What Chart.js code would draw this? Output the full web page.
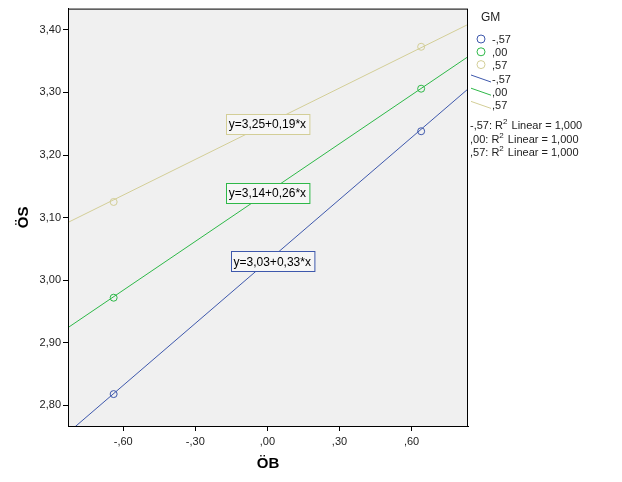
<!DOCTYPE html>
<html>
<head>
<meta charset="utf-8">
<script src="https://cdn.jsdelivr.net/npm/chart.js@4/dist/chart.umd.min.js"></script>
<style>
  html, body { margin: 0; padding: 0; background: #fff; }
  #wrap { width: 622px; height: 482px; }
</style>
</head>
<body>
<div id="wrap"><canvas id="chart" width="622" height="482"></canvas></div>
<script>
// Group means of ÖS at low/high ÖB, for each GM level
const groups = ['-,57', ',00', ',57'];
const colors = ['#3e58ac', '#2eb848', '#d3ce97'];
const pointX = [-0.64, 0.64];
const meansLow = [2.818, 2.972, 3.125];
const meansHigh = [3.238, 3.306, 3.373];

// Fit lines (R2 = 1,000)
const intercepts = [3.03, 3.14, 3.25];
const slopes = [0.33, 0.26, 0.19];
const fitLabels = ['y=3,03+0,33*x', 'y=3,14+0,26*x', 'y=3,25+0,19*x'];
const labelX = [0.02, 0, 0];

const xMin = -0.83, xMax = 0.835;
const yMin = 2.767, yMax = 3.434;

function spssNum(v) {
    // 3.4 -> "3,40", -0.6 -> "-,60", 0 -> ",00"
    let s = Math.abs(v).toFixed(2).replace('.', ',');
    if (s.startsWith('0,')) s = s.slice(1);
    return (v < -1e-9 ? '-' : '') + s;
}

const datasets = [];
groups.forEach((g, i) => {
    datasets.push({
        type: 'scatter',
        label: g,
        data: pointX.map((x, k) => ({ x: x, y: k === 0 ? meansLow[i] : meansHigh[i] })),
        borderColor: colors[i],
        backgroundColor: 'rgba(0,0,0,0)',
        pointRadius: 3.5,
        pointBorderWidth: 1,
        showLine: false
    });
});
groups.forEach((g, i) => {
    // regression line extended past the axis range, clipped to the plot
    const ends = [-1, 1];
    datasets.push({
        type: 'line',
        label: g,
        data: ends.map(x => ({ x: x, y: intercepts[i] + slopes[i] * x })),
        borderColor: colors[i],
        borderWidth: 1,
        pointRadius: 0,
        fill: false
    });
});

const spssPlugin = {
    id: 'spss',
    beforeDraw(chart) {
        const { ctx, chartArea: a } = chart;
        ctx.save();
        ctx.fillStyle = '#f0f0f0';
        ctx.fillRect(a.left, a.top, a.right - a.left, a.bottom - a.top);
        ctx.restore();
    },
    afterDraw(chart) {
        const { ctx, chartArea: a, scales } = chart;
        ctx.save();
        // frame
        ctx.strokeStyle = '#000';
        ctx.lineWidth = 1;
        ctx.strokeRect(a.left + 0.5, a.top + 0.5, a.right - a.left - 1, a.bottom - a.top);

        // equation boxes
        ctx.font = '12px "Liberation Sans", Arial, sans-serif';
        ctx.textBaseline = 'middle';
        ctx.textAlign = 'center';
        fitLabels.forEach((t, i) => {
            const cx = scales.x.getPixelForValue(labelX[i]);
            const cy = scales.y.getPixelForValue(intercepts[i]);
            const w = ctx.measureText(t).width + 6;
            const h = 20;
            const bx = Math.round(cx - w / 2) + 0.5, by = Math.round(cy - h / 2) + 0.5;
            ctx.fillStyle = '#f6f6f6';
            ctx.fillRect(bx, by, w, h);
            ctx.strokeStyle = colors[i];
            ctx.strokeRect(bx, by, w, h);
            ctx.fillStyle = '#000';
            ctx.fillText(t, cx, cy + 1);
        });

        // legend
        ctx.textAlign = 'left';
        ctx.fillStyle = '#222';
        ctx.font = '12px "Liberation Sans", Arial, sans-serif';
        ctx.fillText('GM', 481, 18);
        ctx.font = '11px "Liberation Sans", Arial, sans-serif';
        groups.forEach((g, i) => {
            const y = 39 + 12.8 * i;
            ctx.beginPath();
            ctx.arc(481, y, 4, 0, Math.PI * 2);
            ctx.strokeStyle = colors[i];
            ctx.lineWidth = 1;
            ctx.stroke();
            ctx.fillStyle = '#222';
            ctx.fillText(g, 492, y + 1);
        });
        groups.forEach((g, i) => {
            const y = 79 + 13.2 * i;
            ctx.beginPath();
            ctx.moveTo(471, y - 4);
            ctx.lineTo(491, y + 3);
            ctx.strokeStyle = colors[i];
            ctx.stroke();
            ctx.fillStyle = '#222';
            ctx.fillText(g, 492, y + 1);
        });
        // R2 lines
        groups.forEach((g, i) => {
            const y = 126 + 13.5 * i;
            let x = 470;
            ctx.fillStyle = '#222';
            ctx.font = '11px "Liberation Sans", Arial, sans-serif';
            const pre = g + ': R';
            ctx.fillText(pre, x, y);
            x += ctx.measureText(pre).width;
            ctx.font = '8px "Liberation Sans", Arial, sans-serif';
            ctx.fillText('2', x, y - 4);
            x += ctx.measureText('2').width + 1;
            ctx.font = '11px "Liberation Sans", Arial, sans-serif';
            ctx.fillText(' Linear = 1,000', x, y);
        });
        ctx.restore();
    }
};

new Chart(document.getElementById('chart'), {
    data: { datasets: datasets },
    options: {
        responsive: false,
        animation: false,
        layout: { padding: { top: 4, right: 154, left: 0, bottom: 0 } },
        plugins: {
            legend: { display: false },
            tooltip: { enabled: false }
        },
        scales: {
            x: {
                type: 'linear',
                min: xMin,
                max: xMax,
                afterFit(scale) { scale.height = 56; },
                grid: { drawOnChartArea: false, drawTicks: true, tickLength: 5, color: '#000' },
                border: { display: true, color: '#000' },
                ticks: {
                    stepSize: 0.3,
                    includeBounds: false,
                    padding: 4,
                    color: '#222',
                    font: { family: '"Liberation Sans", Arial, sans-serif', size: 11 },
                    callback: v => spssNum(v)
                },
                title: {
                    display: true,
                    text: 'ÖB',
                    color: '#000',
                    padding: { top: 0, bottom: 9 },
                    font: { family: '"Liberation Sans", Arial, sans-serif', size: 15, weight: 'bold' }
                }
            },
            y: {
                type: 'linear',
                min: yMin,
                max: yMax,
                afterFit(scale) { scale.width = 68; },
                grid: { drawOnChartArea: false, drawTicks: true, tickLength: 5, color: '#000' },
                border: { display: true, color: '#000' },
                ticks: {
                    stepSize: 0.1,
                    includeBounds: false,
                    padding: 2,
                    color: '#222',
                    font: { family: '"Liberation Sans", Arial, sans-serif', size: 11 },
                    callback: v => spssNum(v)
                },
                title: {
                    display: true,
                    text: 'ÖS',
                    color: '#000',
                    padding: { top: 15, bottom: 0 },
                    font: { family: '"Liberation Sans", Arial, sans-serif', size: 15, weight: 'bold' }
                }
            }
        }
    },
    plugins: [spssPlugin]
});
</script>
</body>
</html>
